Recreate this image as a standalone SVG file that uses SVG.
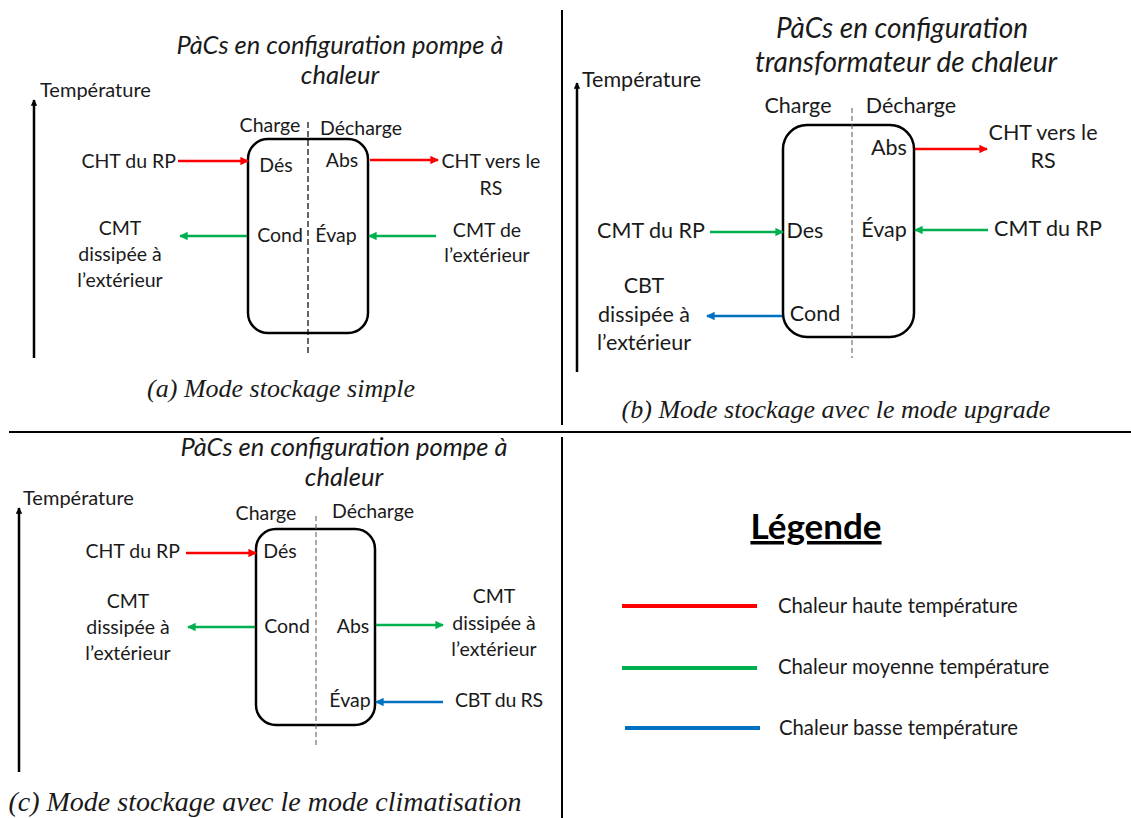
<svg xmlns="http://www.w3.org/2000/svg" width="1131" height="818" viewBox="0 0 1131 818">
<style>
.t{font-family:Lato,"Liberation Sans",sans-serif;font-size:19.5px;fill:#1a1a1a}
.tb{font-family:Lato,"Liberation Sans",sans-serif;font-size:21.5px;fill:#1a1a1a}
.s{font-family:Lato,"Liberation Sans",sans-serif;font-size:20px;fill:#1a1a1a}
.lg{font-family:Lato,"Liberation Sans",sans-serif;font-size:20.3px;fill:#1a1a1a}
.ti{font-family:Lato,"Liberation Sans",sans-serif;font-style:italic;font-size:25.5px;fill:#1a1a1a}
.tib{font-family:Lato,"Liberation Sans",sans-serif;font-style:italic;font-size:28px;fill:#1a1a1a}
.cap{font-family:"Liberation Serif",serif;font-style:italic;font-size:26px;fill:#1a1a1a}
.m{text-anchor:middle}
.e{text-anchor:end}
.box{fill:none;stroke:#000;stroke-width:2.5}
.dash{stroke:#000;stroke-width:1.2;stroke-dasharray:6 3}
.dashb{stroke:#555;stroke-width:1;stroke-dasharray:5 3}
.ax{stroke:#000;stroke-width:2.5}
.r{stroke:#ff0000;stroke-width:2.5;fill:none}
.g{stroke:#00b050;stroke-width:2.5;fill:none}
.b{stroke:#0070c0;stroke-width:2.5;fill:none}
.sep{stroke:#000;stroke-width:2}
</style>
<defs>
<marker id="ar" viewBox="0 0 10 10" refX="9" refY="5" markerWidth="3.4" markerHeight="3.4" orient="auto"><path d="M0,0L10,5L0,10z" fill="#ff0000"/></marker>
<marker id="ag" viewBox="0 0 10 10" refX="9" refY="5" markerWidth="3.4" markerHeight="3.4" orient="auto"><path d="M0,0L10,5L0,10z" fill="#00b050"/></marker>
<marker id="ab" viewBox="0 0 10 10" refX="9" refY="5" markerWidth="3.4" markerHeight="3.4" orient="auto"><path d="M0,0L10,5L0,10z" fill="#0070c0"/></marker>
<marker id="ak" viewBox="0 0 10 10" refX="9" refY="5" markerWidth="2.6" markerHeight="2.6" orient="auto"><path d="M0,0L10,5L0,10z" fill="#000"/></marker>
</defs>
<rect width="1131" height="818" fill="#fff"/>
<g id="separators">
<line class="sep" x1="562" y1="10" x2="562" y2="425"/>
<line class="sep" x1="562" y1="437" x2="562" y2="818"/>
<line class="sep" x1="9" y1="432" x2="1131" y2="432"/>
</g>
<g id="panel-a">
<text class="ti m" x="340" y="54">PàCs en configuration pompe à</text>
<text class="ti m" x="340" y="84">chaleur</text>
<line class="ax" x1="34" y1="358" x2="34" y2="100" marker-end="url(#ak)"/>
<text class="s" x="40" y="97">Température</text>
<g id="a-box">
<rect class="box" x="248" y="139" width="120" height="194" rx="20"/>
<line class="dash" x1="308" y1="122" x2="308" y2="353"/>
<text class="t m" x="270" y="132">Charge</text>
<text class="t m" x="361" y="135">Décharge</text>
<text class="t m" x="276" y="172">Dés</text>
<text class="t m" x="342" y="167">Abs</text>
<text class="t m" x="280" y="242">Cond</text>
<text class="t m" x="336" y="242">Évap</text>
</g>
<text class="t e" x="176" y="168">CHT du RP</text>
<text class="t m" x="491" y="168">CHT vers le</text>
<text class="t m" x="491" y="195">RS</text>
<text class="t m" x="120" y="235">CMT</text>
<text class="t m" x="120" y="261">dissipée à</text>
<text class="t m" x="120" y="287">l’extérieur</text>
<text class="t m" x="487" y="237">CMT de</text>
<text class="t m" x="487" y="262">l’extérieur</text>
<text class="cap m" x="281" y="397">(a) Mode stockage simple</text>
</g>
<g id="panel-b">
<text class="tib m" x="902" y="38">PàCs en configuration</text>
<text class="tib m" x="906" y="72">transformateur de chaleur</text>
<line class="ax" x1="577" y1="372" x2="577" y2="83" marker-end="url(#ak)"/>
<text class="tb" x="582" y="87">Température</text>
<g id="b-box">
<rect class="box" x="783" y="125" width="131" height="212" rx="24"/>
<line class="dashb" x1="852" y1="108" x2="852" y2="358"/>
<text class="tb m" x="798" y="113">Charge</text>
<text class="tb m" x="911" y="113">Décharge</text>
<text class="tb m" x="889" y="155">Abs</text>
<text class="tb m" x="805" y="238">Des</text>
<text class="tb m" x="884" y="237">Évap</text>
<text class="tb m" x="815" y="321">Cond</text>
</g>
<text class="tb m" x="1043" y="140">CHT vers le</text>
<text class="tb m" x="1043" y="168">RS</text>
<text class="tb m" x="651" y="238">CMT du RP</text>
<text class="tb m" x="1048" y="236">CMT du RP</text>
<text class="tb m" x="644" y="293">CBT</text>
<text class="tb m" x="644" y="322">dissipée à</text>
<text class="tb m" x="644" y="350">l’extérieur</text>
<text class="cap m" x="836" y="418">(b) Mode stockage avec le mode upgrade</text>
</g>
<g id="panel-c">
<text class="ti m" x="344" y="456">PàCs en configuration pompe à</text>
<text class="ti m" x="344" y="486">chaleur</text>
<line class="ax" x1="19" y1="772" x2="19" y2="508" marker-end="url(#ak)"/>
<text class="s" x="23" y="505">Température</text>
<g id="c-box">
<rect class="box" x="256" y="529" width="119" height="196" rx="20"/>
<line class="dashb" x1="316" y1="516" x2="316" y2="745"/>
<text class="t m" x="266" y="520">Charge</text>
<text class="t m" x="373" y="518">Décharge</text>
<text class="t m" x="280" y="558">Dés</text>
<text class="t m" x="287" y="633">Cond</text>
<text class="t m" x="353" y="633">Abs</text>
<text class="t m" x="350" y="707">Évap</text>
</g>
<text class="t e" x="180" y="558">CHT du RP</text>
<text class="t m" x="128" y="608">CMT</text>
<text class="t m" x="128" y="634">dissipée à</text>
<text class="t m" x="128" y="660">l’extérieur</text>
<text class="t m" x="494" y="603">CMT</text>
<text class="t m" x="494" y="630">dissipée à</text>
<text class="t m" x="494" y="656">l’extérieur</text>
<text class="t" x="455" y="707" textLength="88">CBT du RS</text>
<text class="cap m" x="265" y="811" style="font-size:28px">(c) Mode stockage avec le mode climatisation</text>
</g>
<g id="legend">
<text x="816" y="539" text-anchor="middle" style="font-family:Lato,'Liberation Sans',sans-serif;font-weight:bold;font-size:35px;text-decoration:underline;fill:#000">Légende</text>
<line x1="622" y1="606" x2="757" y2="606" stroke="#ff0000" stroke-width="4"/>
<line x1="622" y1="668" x2="757" y2="668" stroke="#00b050" stroke-width="4"/>
<line x1="625" y1="728" x2="760" y2="728" stroke="#0070c0" stroke-width="4"/>
<text class="lg" x="778" y="613">Chaleur haute température</text>
<text class="lg" x="778" y="674">Chaleur moyenne température</text>
<text class="lg" x="779" y="735">Chaleur basse température</text>
</g>
<g id="connectors">
<line class="r" x1="178" y1="161" x2="248" y2="161" marker-end="url(#ar)"/>
<line class="r" x1="370" y1="160" x2="438" y2="160" marker-end="url(#ar)"/>
<line class="g" x1="247" y1="236" x2="180" y2="236" marker-end="url(#ag)"/>
<line class="g" x1="436" y1="236" x2="369" y2="236" marker-end="url(#ag)"/>
<line class="r" x1="915" y1="149" x2="987" y2="149" marker-end="url(#ar)"/>
<line class="g" x1="710" y1="232" x2="783" y2="232" marker-end="url(#ag)"/>
<line class="g" x1="988" y1="230" x2="915" y2="230" marker-end="url(#ag)"/>
<line class="b" x1="782" y1="316" x2="707" y2="316" marker-end="url(#ab)"/>
<line class="r" x1="186" y1="553" x2="256" y2="553" marker-end="url(#ar)"/>
<line class="g" x1="255" y1="627" x2="188" y2="627" marker-end="url(#ag)"/>
<line class="g" x1="376" y1="625" x2="443" y2="625" marker-end="url(#ag)"/>
<line class="b" x1="443" y1="702" x2="376" y2="702" marker-end="url(#ab)"/>
</g>
</svg>
